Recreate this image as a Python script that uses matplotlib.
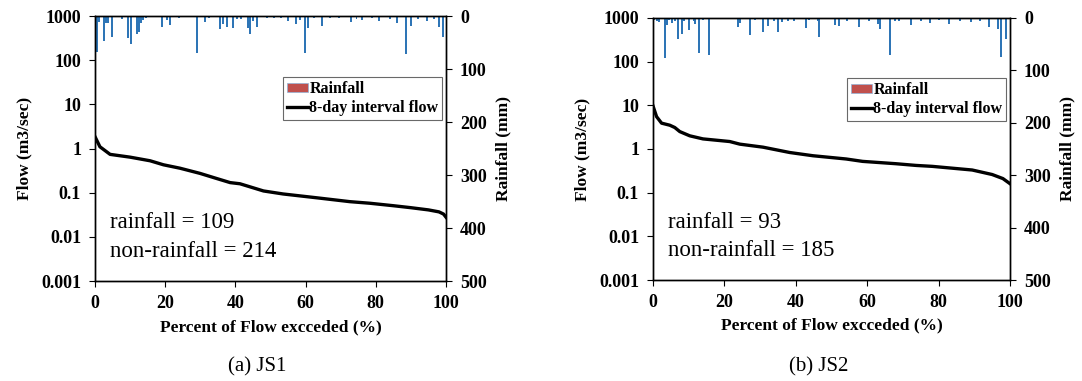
import matplotlib
matplotlib.use('Agg')
import matplotlib.pyplot as plt
from matplotlib.patches import Patch

plt.rcParams['font.family'] = 'Liberation Serif'

# flow duration curves (percent exceeded, flow m3/s)
js1_pct = [0, 1.4, 4.3, 10, 15.7, 19.5, 24.2, 29.9, 34.7, 38.5, 41.3, 48, 53.6,
           63.2, 72.6, 78.3, 85, 90, 95, 98, 99.3, 100]
js1_flow = [1.86, 1.1, 0.74, 0.64, 0.53, 0.43, 0.36, 0.275, 0.21, 0.17, 0.16, 0.11,
            0.094, 0.077, 0.063, 0.058, 0.051, 0.046, 0.041, 0.037, 0.033, 0.028]

js2_pct = [0, 1, 2.4, 4.7, 6.1, 7.5, 10.3, 14, 21.5, 24.3, 30.8, 38.3, 44.8, 54.1,
           58.7, 68, 73.7, 78.2, 89.4, 95, 98, 100]
js2_flow = [9.7, 5.5, 3.9, 3.5, 3.1, 2.5, 2.0, 1.7, 1.48, 1.29, 1.1, 0.83, 0.70, 0.59,
            0.52, 0.46, 0.42, 0.40, 0.33, 0.26, 0.21, 0.16]

# rainfall bars (percent position, rainfall mm)
js1_rain_pct = [0.7, 1.2, 2.6, 3.2, 3.8, 4.8, 7.6, 9.5, 10.3, 11.9, 12.5, 13.1, 13.7,
                14.5, 19, 20.6, 21.4, 24, 29.1, 31.3, 32.5, 35.6, 36.5, 37.7, 39.4,
                40.4, 41.6, 43.7, 44.2, 45, 46.2, 49, 51, 53, 55.1, 57.2, 58.4, 59.8,
                60.8, 62.5, 64.6, 67, 69.5, 72.9, 74.5, 76, 79, 81, 84, 86, 88.5,
                90, 92, 94.5, 96.5, 98, 99.2]
js1_rain = [67, 11, 48, 14, 13, 39, 5, 42, 53, 34, 30, 14, 8, 3, 21, 8, 17, 3, 69, 12,
            4, 25, 16, 20, 22, 6, 6, 22, 34, 9, 20, 3, 4, 3, 9, 15, 7, 70, 22, 4, 19,
            3, 4, 12, 5, 8, 4, 10, 6, 14, 72, 18, 5, 9, 6, 20, 40]

js2_rain_pct = [0.3, 1, 1.7, 3.4, 3.8, 4.6, 5.4, 6.1, 6.9, 8, 8.6, 10, 11.4, 11.9,
                12.9, 14, 15.6, 18.5, 23.8, 24.4, 27.3, 28.5, 30.8, 32.2, 33.8, 35,
                36, 37.8, 39.6, 42.9, 43.8, 46.2, 46.6, 51.1, 52, 54.3, 57.8, 60.5,
                63, 63.7, 66.5, 67.8, 69, 71.4, 72.2, 75, 77.5, 80, 83, 86, 89, 91.5,
                94, 96.5, 97.5, 98.8]
js2_rain = [4, 5, 7, 76, 14, 4, 10, 5, 41, 30, 6, 24, 6, 11, 66, 4, 70, 3, 18, 9, 32,
            4, 27, 15, 6, 26, 7, 6, 6, 20, 4, 6, 36, 13, 15, 6, 17, 6, 12, 21, 71, 6,
            5, 3, 14, 6, 9, 4, 12, 5, 8, 6, 18, 22, 75, 40]

rain_note = [109, 93]
nonrain_note = [214, 185]
captions = ['(a) JS1', '(b) JS2']

fig = plt.figure(figsize=(10.82, 3.81), dpi=100)
boxes = [[0.0878, 0.262, 0.3244, 0.696], [0.6035, 0.265, 0.33, 0.688]]

panels = [(js1_pct, js1_flow, js1_rain_pct, js1_rain),
          (js2_pct, js2_flow, js2_rain_pct, js2_rain)]

for i, (pct, flow, rpct, rain) in enumerate(panels):
    ax1 = fig.add_axes(boxes[i])
    ax2 = ax1.twinx()
    ax1.set_zorder(ax2.get_zorder() + 1)
    ax1.patch.set_visible(False)

    ax2.bar(rpct, rain, width=0.55, color='#2e75b6', linewidth=0)
    ax2.set_ylim(500, 0)
    ax2.set_yticks([0, 100, 200, 300, 400, 500])

    ax1.plot(pct, flow, color='black', lw=2.4)
    ax1.set_yscale('log')
    ax1.set_ylim(0.001, 1000)
    ax1.set_yticks([0.001, 0.01, 0.1, 1, 10, 100, 1000])
    ax1.set_yticklabels(['0.001', '0.01', '0.1', '1', '10', '100', '1000'])
    ax1.minorticks_off()
    ax1.set_xlim(0, 100)
    ax1.set_xticks([0, 20, 40, 60, 80, 100])

    for ax in (ax1, ax2):
        ax.tick_params(direction='out', length=4, width=0.8, colors='black',
                       labelsize=13, pad=6)
        for lab in ax.get_xticklabels() + ax.get_yticklabels():
            lab.set_fontweight('bold')
        for s in ax.spines.values():
            s.set_linewidth(1.0)

    ax1.set_xlabel('Percent of Flow excceded (%)', fontsize=12.5, fontweight='bold',
                   labelpad=5)
    ax1.set_ylabel('Flow (m3/sec)', fontsize=12.5, fontweight='bold', labelpad=6)
    ax2.set_ylabel('Rainfall (mm)', fontsize=12.5, fontweight='bold', labelpad=6)

    handles = [Patch(facecolor='#c0504d', edgecolor='#8fb3d9', linewidth=0.5),
               plt.Line2D([], [], color='black', lw=2.4)]
    leg = ax1.legend(handles, ['Rainfall', '8-day interval flow'],
                     loc='upper right', bbox_to_anchor=(0.99, 0.77),
                     prop={'weight': 'bold', 'size': 11.5}, frameon=True,
                     fancybox=False, edgecolor='#444444', handlelength=1.3,
                     handleheight=0.5, handletextpad=0.1, borderpad=0.25,
                     labelspacing=0.2, borderaxespad=0)
    leg.get_frame().set_linewidth(0.8)

    ax1.text(0.042, 0.20, 'rainfall = %d' % rain_note[i], transform=ax1.transAxes,
             fontsize=16.5, va='baseline')
    ax1.text(0.042, 0.09, 'non-rainfall = %d' % nonrain_note[i],
             transform=ax1.transAxes, fontsize=16.5, va='baseline')

    cx = boxes[i][0] + boxes[i][2] / 2 - 0.012
    fig.text(cx, 0.037, captions[i], ha='center', va='center', fontsize=15)

fig.savefig('out.png', dpi=100)
